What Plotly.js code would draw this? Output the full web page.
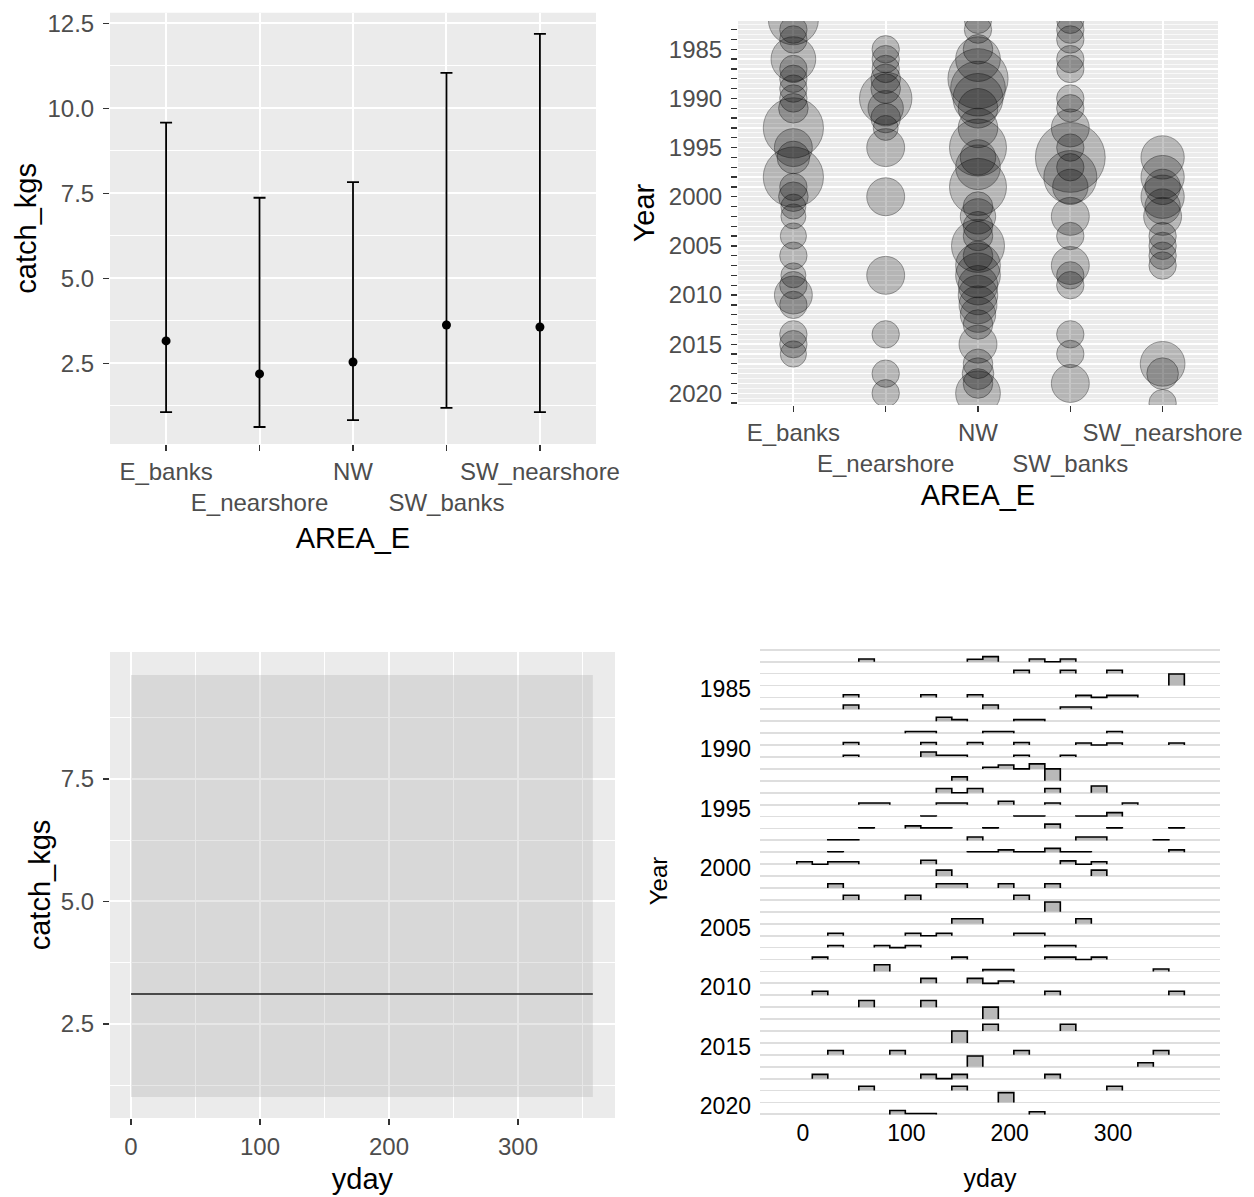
<!DOCTYPE html>
<html><head><meta charset="utf-8">
<script src="https://cdn.plot.ly/plotly-3.0.1.min.js"></script>
<style>html,body{margin:0;padding:0;background:#fff;}#chart{width:1254px;height:1197px;}</style>
</head><body><div id="chart"></div>
<script>
// ---------- data: panel A (mean catch by area with range) ----------
const areas = ['E_banks','E_nearshore','NW','SW_banks','SW_nearshore'];
const catchMean = [3.16, 2.19, 2.54, 3.63, 3.57];
const catchLow  = [1.07, 0.63, 0.83, 1.19, 1.07];
const catchHigh = [9.58, 7.37, 7.83, 11.04, 12.19];
const catchTicks = [2.5, 5, 7.5, 10, 12.5];

// ---------- data: panel B (trips per area and year) ----------
const yearsE_banks = [1982,1983,1984,1986,1987,1988,1989,1990,1991,1993,1995,1996,1998,1999,2000,2001,2002,2004,2006,2008,2009,2010,2011,2014,2015,2016];
const nE_banks     = [4,1.2,1.2,3.2,1.2,1.2,1.2,1.2,1.4,5.8,2.3,1.7,5.8,1.2,1.4,1.0,1.0,1.1,1.2,1.0,1.2,2.3,1.2,1.2,1.2,1.1];
const yearsE_nearshore = [1985,1986,1987,1988,1989,1990,1991,1992,1993,1995,2000,2008,2014,2018,2020];
const nE_nearshore     = [1.2,1.2,1.2,1.4,1.4,4.4,2.0,1.4,1.0,2.3,2.3,2.3,1.2,1.2,1.2];
const yearsNW = [1982,1983,1985,1986,1988,1989,1990,1991,1993,1995,1996,1997,1999,2001,2002,2003,2004,2005,2006,2007,2008,2009,2010,2011,2012,2013,2015,2017,2018,2019,2020];
const nNW     = [1.2,1.2,1.4,3.2,5.8,4.8,4.0,2.5,2.5,5.2,2.0,3.2,5.2,1.4,2.0,1.4,1.4,4.5,1.4,3.2,3.2,2.5,2.5,2.3,2.0,1.4,2.3,1.4,1.6,1.4,3.2];
const yearsSW_banks = [1982,1983,1984,1986,1987,1990,1991,1993,1995,1996,1997,1998,1999,2002,2004,2007,2008,2009,2014,2016,2019];
const nSW_banks     = [1.2,1.2,1.2,1.2,1.2,1.2,1.2,2.3,1.2,7.8,1.2,4.5,2.0,2.3,1.2,2.3,1.2,1.2,1.2,1.2,2.3];
const yearsSW_nearshore = [1996,1998,1999,2000,2001,2002,2004,2005,2006,2007,2017,2018,2021];
const nSW_nearshore     = [3.0,3.0,2.0,3.0,2.0,2.3,1.2,1.2,1.2,1.2,3.2,1.6,1.2];
const yearTicks = [1982,1983,1984,1985,1986,1987,1988,1989,1990,1991,1992,1993,1994,1995,1996,1997,1998,1999,2000,2001,2002,2003,2004,2005,2006,2007,2008,2009,2010,2011,2012,2013,2014,2015,2016,2017,2018,2019,2020,2021];

// ---------- data: panel C (fit of catch over yday) ----------
const ydayFit = [0, 358];
const fitMean = [3.11, 3.11];
const fitLow  = [1.01, 1.01];
const fitHigh = [9.62, 9.62];
const ydayTicks = [0, 100, 200, 300];
const fitTicks = [2.5, 5, 7.5];

// ---------- data: panel D (yday distribution per year; [bin centre, density]) ----------
const ridgeYears = [1982,1983,1984,1985,1986,1987,1988,1989,1990,1991,1992,1993,1994,1995,1996,1997,1998,1999,2000,2001,2002,2003,2004,2005,2006,2007,2008,2009,2010,2011,2012,2013,2014,2015,2016,2017,2018,2019,2020];
const ridgeBins = [
 [[61.5,.22],[166.5,.2],[181.5,.42],[226.5,.22],[256.5,.22]],
 [[211.5,.28],[256.5,.28],[301.5,.28]],
 [[361.5,.97]],
 [[46.5,.22],[121.5,.22],[166.5,.22],[271.5,.17],[301.5,.17],[316.5,.17]],
 [[46.5,.36],[181.5,.36],[256.5,.2],[271.5,.2]],
 [[136.5,.33],[151.5,.14],[211.5,.14],[226.5,.14]],
 [[106.5,.14],[121.5,.14],[181.5,.14],[196.5,.14],[301.5,.14]],
 [[46.5,.22],[121.5,.22],[166.5,.22],[211.5,.22],[271.5,.17],[301.5,.17],[361.5,.17]],
 [[46.5,.14],[121.5,.42],[136.5,.14],[151.5,.14],[211.5,.14],[256.5,.14]],
 [[181.5,.14],[196.5,.33],[226.5,.42]],
 [[151.5,.33],[241.5,1.0]],
 [[136.5,.36],[166.5,.36],[241.5,.36],[286.5,.56]],
 [[61.5,.14],[76.5,.14],[136.5,.14],[151.5,.14],[196.5,.28],[241.5,.14],[316.5,.14]],
 [[121.5,.05],[211.5,.05],[226.5,.05],[271.5,.05],[286.5,.05],[301.5,.33]],
 [[61.5,.05],[106.5,.22],[121.5,.05],[136.5,.05],[181.5,.05],[241.5,.36],[301.5,.05],[361.5,.05]],
 [[31.5,.05],[46.5,.05],[166.5,.28],[271.5,.28],[286.5,.28],[346.5,.05]],
 [[31.5,.05],[166.5,.05],[181.5,.05],[196.5,.2],[211.5,.05],[226.5,.05],[241.5,.33],[256.5,.05],[271.5,.05],[361.5,.2]],
 [[1.5,.2],[31.5,.2],[46.5,.2],[121.5,.33],[256.5,.28],[286.5,.2]],
 [[136.5,.5],[286.5,.5]],
 [[31.5,.36],[136.5,.36],[151.5,.36],[196.5,.36],[241.5,.36]],
 [[46.5,.39],[106.5,.39],[211.5,.39]],
 [[241.5,.83]],
 [[151.5,.42],[166.5,.42],[271.5,.42]],
 [[31.5,.2],[106.5,.2],[136.5,.2],[211.5,.2],[226.5,.2]],
 [[31.5,.17],[76.5,.17],[106.5,.17],[241.5,.17],[256.5,.17]],
 [[16.5,.2],[151.5,.2],[241.5,.2],[256.5,.2],[286.5,.2]],
 [[76.5,.56],[181.5,.15],[196.5,.15],[346.5,.2]],
 [[121.5,.42],[166.5,.42],[196.5,.2]],
 [[16.5,.33],[241.5,.33],[361.5,.33]],
 [[61.5,.56],[121.5,.56]],
 [[181.5,1.0]],
 [[181.5,.56],[256.5,.56]],
 [[151.5,1.0]],
 [[31.5,.36],[91.5,.36],[211.5,.36],[346.5,.36]],
 [[166.5,.9],[331.5,.33]],
 [[16.5,.36],[121.5,.36],[151.5,.36],[241.5,.36]],
 [[61.5,.36],[151.5,.36],[301.5,.36]],
 [[196.5,.83]],
 [[91.5,.33],[106.5,.08],[121.5,.08],[226.5,.22]]
];
const ridgeBinWidth = 15;
const ridgeLabelYears = [1985,1990,1995,2000,2005,2010,2015,2020];

// ---------- layout helpers ----------
const W = 1254, H = 1197;
const F = 'Liberation Sans, Arial, Helvetica, sans-serif';
const dx = (a,b) => [a/W, b/W];
const dy = (top,bottom) => [1-bottom/H, 1-top/H];
const tickFont = {family:F, size:24, color:'#4D4D4D'};
const titleFont = {family:F, size:29, color:'#000000'};
const grey = '#EBEBEB';

const traces = [];

// Panel A
traces.push({
  type:'scatter', mode:'markers', x:areas, y:catchMean, xaxis:'x', yaxis:'y',
  marker:{color:'#000000', size:9},
  error_y:{type:'data', symmetric:false,
    array: catchHigh.map((v,i)=>v-catchMean[i]),
    arrayminus: catchMean.map((v,i)=>v-catchLow[i]),
    color:'#000000', thickness:1.8, width:6},
  showlegend:false, hoverinfo:'skip'
});

// Panel B
const bubbleSets = [
  ['E_banks', yearsE_banks, nE_banks],
  ['E_nearshore', yearsE_nearshore, nE_nearshore],
  ['NW', yearsNW, nNW],
  ['SW_banks', yearsSW_banks, nSW_banks],
  ['SW_nearshore', yearsSW_nearshore, nSW_nearshore]
];
bubbleSets.forEach(([a, yrs, n]) => {
  traces.push({
    type:'scatter', mode:'markers', xaxis:'x2', yaxis:'y2',
    x: yrs.map(()=>a), y: yrs,
    marker:{size:n, sizemode:'area', sizeref:0.0032, color:'rgba(0,0,0,0.32)',
            line:{color:'rgba(0,0,0,0.5)', width:1}},
    showlegend:false, hoverinfo:'skip'
  });
});

// Panel C
traces.push({type:'scatter', mode:'lines', x:ydayFit, y:fitLow, xaxis:'x3', yaxis:'y3',
  line:{width:0, color:'rgba(0,0,0,0)'}, showlegend:false, hoverinfo:'skip'});
traces.push({type:'scatter', mode:'lines', x:ydayFit, y:fitHigh, xaxis:'x3', yaxis:'y3',
  fill:'tonexty', fillcolor:'rgba(153,153,153,0.24)',
  line:{width:0, color:'rgba(0,0,0,0)'}, showlegend:false, hoverinfo:'skip'});
traces.push({type:'scatter', mode:'lines', x:ydayFit, y:fitMean, xaxis:'x3', yaxis:'y3',
  line:{width:1.6, color:'#1A1A1A'}, showlegend:false, hoverinfo:'skip'});

// Panel D: step outlines built from the bins
const rx = [], ry = [];
ridgeYears.forEach((yr, i) => {
  const bins = ridgeBins[i].slice().sort((a,b)=>a[0]-b[0]);
  const runs = [];
  bins.forEach(b => {
    const last = runs.length ? runs[runs.length-1] : null;
    if (last && b[0] - last[last.length-1][0] <= 2*ridgeBinWidth + 0.01) last.push(b);
    else runs.push([b]);
  });
  runs.forEach(run => {
    run.forEach((b, j) => {
      const l = b[0]-ridgeBinWidth/2, r = b[0]+ridgeBinWidth/2;
      if (j === 0) { rx.push(l); ry.push(yr); }
      else {
        const pr = run[j-1][0]+ridgeBinWidth/2;
        if (l - pr > 0.01) { rx.push(pr, l); ry.push(yr, yr); }
      }
      rx.push(l, r); ry.push(yr - b[1], yr - b[1]);
    });
    rx.push(run[run.length-1][0]+ridgeBinWidth/2); ry.push(yr);
    rx.push(null); ry.push(null);
  });
});
traces.push({type:'scatter', mode:'lines', x:rx, y:ry, xaxis:'x4', yaxis:'y4',
  fill:'toself', fillcolor:'#B8B8B8', line:{width:0, color:'rgba(0,0,0,0)'},
  connectgaps:false, showlegend:false, hoverinfo:'skip'});
traces.push({type:'scatter', mode:'lines', x:rx, y:ry, xaxis:'x4', yaxis:'y4',
  line:{width:1.6, color:'#000000'}, connectgaps:false, showlegend:false, hoverinfo:'skip'});

const baseTick = {ticks:'outside', ticklen:6, tickwidth:1.3, tickcolor:'#333333',
  tickfont:tickFont, zeroline:false, showline:false, fixedrange:true,
  showgrid:true, gridcolor:'#FFFFFF', gridwidth:2};

const layout = {
  width:W, height:H, margin:{l:0,r:0,t:0,b:0},
  paper_bgcolor:'#FFFFFF', plot_bgcolor:'#FFFFFF', showlegend:false,
  font:{family:F},
  xaxis: Object.assign({}, baseTick, {domain:dx(110,596), anchor:'y', type:'category',
    categoryorder:'array', categoryarray:areas, range:[-0.6,4.6],
    tickmode:'array', tickvals:areas, ticktext:areas.map((a,i)=> i%2 ? '<br>'+a : a),
    tickangle:0, ticklabelstandoff:0,
    title:{text:'AREA_E', font:titleFont, standoff:12}}),
  yaxis: Object.assign({}, baseTick, {domain:dy(12.7,444), anchor:'x', range:[0.13,12.81],
    tickmode:'array', tickvals:catchTicks, ticktext:catchTicks.map(v=>v.toFixed(1)),
    ticklabelstandoff:4,
    minor:{tickmode:'linear', tick0:1.25, dtick:2.5, showgrid:true, gridcolor:'#FFFFFF', gridwidth:1, ticks:''},
    title:{text:'catch_kgs', font:titleFont, standoff:2}}),
  xaxis2: Object.assign({}, baseTick, {domain:dx(738,1218), anchor:'y2', type:'category',
    categoryorder:'array', categoryarray:areas, range:[-0.6,4.6],
    tickmode:'array', tickvals:areas, ticktext:areas.map((a,i)=> i%2 ? '<br>'+a : a),
    tickangle:0, ticklabelstandoff:0,
    title:{text:'AREA_E', font:titleFont, standoff:8}}),
  yaxis2: Object.assign({}, baseTick, {domain:dy(21,405), anchor:'x2', range:[2021.19,1982.12],
    tickmode:'array', tickvals:yearTicks, ticktext:yearTicks.map(v=> v%5===0 ? String(v) : ''),
    gridwidth:1.4, ticklabelstandoff:4,
    minor:{tickmode:'linear', tick0:1982.5, dtick:1, showgrid:true, gridcolor:'#FFFFFF', gridwidth:0.7, ticks:''},
    title:{text:'Year', font:titleFont, standoff:5}}),
  xaxis3: Object.assign({}, baseTick, {domain:dx(110,615), anchor:'y3', range:[-16.3,375.2],
    tickmode:'array', tickvals:ydayTicks, ticktext:ydayTicks.map(String), ticklabelstandoff:1,
    minor:{tickmode:'linear', tick0:50, dtick:100, showgrid:true, gridcolor:'#FFFFFF', gridwidth:1, ticks:''},
    title:{text:'yday', font:titleFont, standoff:9}}),
  yaxis3: Object.assign({}, baseTick, {domain:dy(652,1118), anchor:'x3', range:[0.58,10.09],
    tickmode:'array', tickvals:fitTicks, ticktext:fitTicks.map(v=>v.toFixed(1)), ticklabelstandoff:4,
    minor:{tickmode:'linear', tick0:1.25, dtick:2.5, showgrid:true, gridcolor:'#FFFFFF', gridwidth:1, ticks:''},
    title:{text:'catch_kgs', font:titleFont, standoff:1}}),
  xaxis4: {domain:dx(760,1220), anchor:'y4', range:[-41.6,403.5], fixedrange:true,
    tickmode:'array', tickvals:ydayTicks, ticktext:ydayTicks.map(String), ticks:'',
    tickfont:{family:F, size:23, color:'#000000'}, ticklabelstandoff:0,
    showgrid:false, zeroline:false, showline:false,
    title:{text:'yday', font:{family:F, size:25, color:'#000000'}, standoff:24}},
  yaxis4: {domain:dy(645,1117), anchor:'x4', range:[2020.22,1980.6], fixedrange:true,
    tickmode:'array', tickvals:ridgeLabelYears, ticktext:ridgeLabelYears.map(String), ticks:'',
    tickfont:{family:F, size:23, color:'#000000'}, ticklabelstandoff:8, ticklabelshift:8,
    showgrid:true, gridcolor:'#DEDEDE', gridwidth:1.8, zeroline:false, showline:false,
    minor:{tickmode:'linear', tick0:1982, dtick:1, showgrid:true, gridcolor:'#DEDEDE', gridwidth:1.8, ticks:''},
    title:{text:'Year', font:{family:F, size:24, color:'#000000'}, standoff:25}},
  shapes: [
    {type:'rect', xref:'x domain', yref:'y domain', x0:0, x1:1, y0:0, y1:1, fillcolor:grey, line:{width:0}, layer:'below'},
    {type:'rect', xref:'x2 domain', yref:'y2 domain', x0:0, x1:1, y0:0, y1:1, fillcolor:grey, line:{width:0}, layer:'below'},
    {type:'rect', xref:'x3 domain', yref:'y3 domain', x0:0, x1:1, y0:0, y1:1, fillcolor:grey, line:{width:0}, layer:'below'}
  ]
};

Plotly.newPlot('chart', traces, layout, {staticPlot:true, displayModeBar:false});
</script>
</body></html>
